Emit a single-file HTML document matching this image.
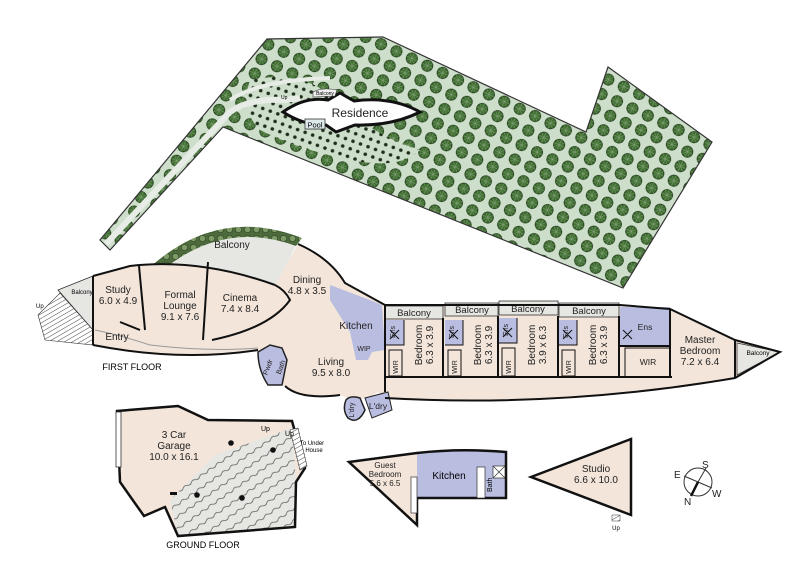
<!DOCTYPE html>
<html><head><meta charset="utf-8"><style>
html,body{margin:0;padding:0;background:#fff;}
svg{display:block;font-family:"Liberation Sans",sans-serif;}
</style></head><body>
<svg width="800" height="565" viewBox="0 0 800 565" xmlns="http://www.w3.org/2000/svg">
<defs>
<pattern id="trees" width="17" height="16" patternUnits="userSpaceOnUse" patternTransform="rotate(25)">
<rect width="17" height="16" fill="#cddfca"/>
<circle cx="7" cy="7" r="5.6" fill="#426f34" stroke="#1f3a18" stroke-width="0.8"/>
<path d="M7 1.5V12.5M1.5 7H12.5M3 3L11 11M11 3L3 11" stroke="#86a97a" stroke-width="0.5"/>
</pattern>
<pattern id="dots" width="8" height="8" patternUnits="userSpaceOnUse" patternTransform="rotate(20)">
<rect width="8" height="8" fill="#cddfca"/><circle cx="4" cy="4" r="1.8" fill="#1e2e1a"/>
</pattern>
<pattern id="hatch" width="4" height="4" patternUnits="userSpaceOnUse" patternTransform="rotate(60)">
<rect width="4" height="4" fill="#fff"/><line x1="0" y1="0" x2="0" y2="4" stroke="#444" stroke-width="1"/>
</pattern>
<pattern id="band" width="9" height="9" patternUnits="userSpaceOnUse">
<rect width="9" height="9" fill="#4c6a3c"/><circle cx="4.5" cy="4.5" r="3.2" fill="#7d9a66" stroke="#2c4222" stroke-width="0.6"/>
</pattern>
<pattern id="contour" width="10" height="10" patternUnits="userSpaceOnUse" patternTransform="rotate(-35)">
<rect width="10" height="10" fill="#e6e6e2"/><path d="M0 5 Q2.5 3 5 5 T10 5" fill="none" stroke="#555" stroke-width="0.7"/>
</pattern>
</defs>

<!-- Site lot -->
<polygon points="267,39 383,37 586,132 608,67 712,142 623,288 223,127 110,250 100,240" fill="url(#trees)" stroke="#333" stroke-width="1.2"/>
<path d="M250,80 Q300,70 330,95 Q370,135 420,150 Q400,170 350,160 Q300,150 260,130 Q240,110 250,80Z" fill="url(#dots)"/>
<!-- driveway -->
<path d="M106,244 L230,112 Q250,98 285,100 L300,98" fill="none" stroke="#e8ece6" stroke-width="6"/>
<path d="M230,100 Q260,80 330,78" fill="none" stroke="#e8ece6" stroke-width="4"/>
<!-- residence -->
<path d="M283,112 Q305,96 328,100 L340,93 L354,101 Q392,96 420,112 Q392,126 355,125 L336,132 L326,125 Q305,126 283,112 Z" fill="#fff" stroke="#111" stroke-width="3"/>
<text x="360" y="117" font-size="12" text-anchor="middle" fill="#222">Residence</text>
<rect x="305" y="119" width="20" height="10" fill="#dde9ea" stroke="#333" stroke-width="0.8"/>
<text x="315" y="127.5" font-size="7.5" text-anchor="middle">Pool</text>
<path d="M313,92 Q322,87 337,90 L335,96 L313,97Z" fill="#eee" stroke="#333" stroke-width="0.6"/>
<text x="325" y="95" font-size="5" text-anchor="middle">Balcony</text>
<text x="281" y="99" font-size="5">Up</text>

<!-- first floor balcony with planter band -->
<path d="M128,290 Q205,200 302,238 L296,246 Q210,215 140,292 Z" fill="url(#band)"/>
<path d="M140,292 Q210,215 296,246 L275,287 Q200,258 133,268 Z" fill="#e6e6e3"/>
<text x="232" y="248" font-size="10" text-anchor="middle" fill="#222">Balcony</text>

<!-- main house fill -->
<path d="M93,276 L130,266 Q200,258 275,285 L298,244 Q330,258 345,283 L385,305 L620,305 L670,309 L735,340 L780,352 L735,378 Q560,408 385,398 L378,392 Q360,405 340,395 Q300,400 285,386 Q265,372 258,350 Q180,362 93,345 Z" fill="#f3e5da"/>
<!-- left balcony & stairs -->
<polygon points="58,290 93,276 93,330" fill="#e6e6e3" stroke="#333" stroke-width="0.8"/>
<text x="82" y="294" font-size="6" text-anchor="middle">Balcony</text>
<polygon points="38,315 60,293 93,330 93,345 45,340" fill="url(#hatch)" stroke="#333" stroke-width="0.6"/>
<text x="36" y="308" font-size="6">Up</text>

<!-- blue rooms -->
<path d="M330,285 L370,300 L382,305 L385,350 L372,352 L368,360 L356,360 L350,332 L330,300 Z" fill="#b9bde0"/>
<path d="M258,352 L270,345 L282,348 L287,360 L282,385 L268,385 Q258,370 258,352 Z" fill="#b9bde0" stroke="#222" stroke-width="1.5"/>
<path d="M346,400 Q350,395 360,398 L365,410 Q358,425 348,418 Q342,410 346,400 Z" fill="#b9bde0" stroke="#222" stroke-width="1.5"/>
<path d="M365,398 L388,392 L392,410 L372,418 Z" fill="#b9bde0" stroke="#222" stroke-width="1"/>
<!-- ensuites -->
<rect x="386" y="320" width="18" height="25" fill="#b9bde0"/>
<rect x="445" y="320" width="18" height="25" fill="#b9bde0"/>
<rect x="499" y="318" width="18" height="25" fill="#b9bde0"/>
<rect x="559" y="320" width="18" height="25" fill="#b9bde0"/>
<rect x="620" y="307" width="50" height="39" fill="#b9bde0"/>

<!-- bedroom balconies -->
<g fill="#e6e6e3" stroke="#333" stroke-width="0.8">
<rect x="385" y="306" width="58" height="13"/>
<rect x="445" y="303" width="53" height="13"/>
<rect x="499" y="301" width="59" height="14"/>
<rect x="559" y="303" width="60" height="14"/>
<polygon points="737,343 780,352 737,375"/>
</g>
<g font-size="9.5" text-anchor="middle" fill="#222">
<text x="414" y="316">Balcony</text><text x="472" y="313">Balcony</text>
<text x="528" y="312">Balcony</text><text x="589" y="314">Balcony</text>
</g>
<text x="758" y="355" font-size="6.5" text-anchor="middle">Balcony</text>

<!-- walls -->
<g fill="none" stroke="#111" stroke-width="2">
<path d="M93,276 L130,266 Q200,258 275,285"/>
<path d="M93,345 Q180,362 258,350"/>
<path d="M93,276 L93,345"/>
<path d="M139,266 L145,330"/>
<path d="M208,262 L203,340"/>
<path d="M212,340 Q270,328 290,300 Q285,290 275,285"/>
<path d="M140,330 L120,322"/>
<path d="M298,244 Q330,258 345,283 L385,305"/>
<path d="M385,305 L620,305 L670,309 L735,340 L780,352 L735,378 Q560,408 385,398"/>
<path d="M285,386 Q300,400 340,395"/>
<path d="M385,305 L385,392"/>
<path d="M443,318 L443,377 M498,316 L498,377 M558,316 L558,377 M619,316 L619,377"/>
<path d="M385,377 L672,377"/>
<path d="M620,346 L670,346 M670,309 L670,378 M735,340 L735,378"/>
</g>
<g fill="none" stroke="#111" stroke-width="1">
<rect x="389" y="350" width="13" height="26"/><rect x="448" y="350" width="13" height="26"/>
<rect x="502" y="348" width="13" height="28"/><rect x="562" y="350" width="13" height="26"/>
<rect x="625" y="348" width="45" height="29"/>
<path d="M386,345 L404,345 L404,320 M445,345 L463,345 L463,320 M499,343 L517,343 L517,318 M559,345 L577,345 L577,320"/>
<path d="M390,330 l9,9 m0,-9 l-9,9 M449,330 l9,9 m0,-9 l-9,9 M503,328 l9,9 m0,-9 l-9,9 M563,330 l9,9 m0,-9 l-9,9 M623,330 l9,9 m0,-9 l-9,9"/>
<path d="M95,330 Q120,335 150,345 Q210,352 258,348" stroke="#999"/>
</g>

<!-- first floor labels -->
<g font-size="10" text-anchor="middle" fill="#222">
<text x="118" y="293">Study</text><text x="118" y="304">6.0 x 4.9</text>
<text x="180" y="298">Formal</text><text x="180" y="309">Lounge</text><text x="180" y="320">9.1 x 7.6</text>
<text x="240" y="301">Cinema</text><text x="240" y="312">7.4 x 8.4</text>
<text x="307" y="283">Dining</text><text x="307" y="294">4.8 x 3.5</text>
<text x="356" y="329">Kitchen</text>
<text x="331" y="365">Living</text><text x="331" y="376">9.5 x 8.0</text>
<text x="117" y="340">Entry</text>
<text x="700" y="343">Master</text><text x="700" y="354">Bedroom</text><text x="700" y="365">7.2 x 6.4</text>
<text x="645" y="330" font-size="8.5">Ens</text>
<text x="648" y="365" font-size="8.5">WIR</text>
<text x="378" y="409" font-size="8.5">L'dry</text>
</g>
<g font-size="10" text-anchor="middle" fill="#222">
<text transform="translate(422,345) rotate(-90)">Bedroom</text><text transform="translate(433,345) rotate(-90)">6.3 x 3.9</text>
<text transform="translate(481,345) rotate(-90)">Bedroom</text><text transform="translate(492,345) rotate(-90)">6.3 x 3.9</text>
<text transform="translate(535,345) rotate(-90)">Bedroom</text><text transform="translate(546,345) rotate(-90)">3.9 x 6.3</text>
<text transform="translate(596,345) rotate(-90)">Bedroom</text><text transform="translate(607,345) rotate(-90)">6.3 x 3.9</text>
</g>
<g font-size="7" text-anchor="middle" fill="#222">
<text transform="translate(398,367) rotate(-90)">WIR</text><text transform="translate(457,367) rotate(-90)">WIR</text>
<text transform="translate(511,367) rotate(-90)">WIR</text><text transform="translate(571,367) rotate(-90)">WIR</text>
<text transform="translate(395,332) rotate(-90)">Ens</text><text transform="translate(454,332) rotate(-90)">Ens</text>
<text transform="translate(508,330) rotate(-90)">Ens</text><text transform="translate(568,332) rotate(-90)">Ens</text>
<text transform="translate(270,368) rotate(-70)">Pwdr</text><text transform="translate(283,368) rotate(-70)">Bath</text>
<text transform="translate(354,410) rotate(-90)">L'dry</text>
<text x="364" y="351">WIP</text>
</g>
<text x="132" y="370" font-size="9" text-anchor="middle">FIRST FLOOR</text>

<!-- ground floor: garage -->
<polygon points="117,411 178,406 208,420 292,421 305,468 296,482 295,527 178,536 165,507 144,516 120,482" fill="#f3e5da"/>
<polygon points="170,500 215,455 292,428 296,482 295,527 178,536" fill="url(#contour)"/>
<polygon points="117,411 178,406 208,420 292,421 305,468 296,482 295,527 178,536 165,507 144,516 120,482" fill="none" stroke="#111" stroke-width="2.5"/>
<rect x="116" y="412" width="5" height="55" fill="#fff" stroke="#333" stroke-width="0.8"/>
<polygon points="290,430 298,428 307,466 300,470" fill="url(#hatch)" stroke="#333" stroke-width="0.6"/>
<g fill="#111"><circle cx="231" cy="443" r="2.8"/><circle cx="273" cy="450" r="2.8"/><circle cx="197" cy="495" r="2.8"/><circle cx="242" cy="498" r="2.8"/><rect x="170" y="492" width="7" height="3"/></g>
<g font-size="10" text-anchor="middle" fill="#222">
<text x="174" y="438">3 Car</text><text x="174" y="449">Garage</text><text x="174" y="460">10.0 x 16.1</text>
</g>
<text x="261" y="431" font-size="7">Up</text><text x="285" y="436" font-size="7">Up</text>
<text x="312" y="445" font-size="6" text-anchor="middle">To Under</text><text x="314" y="452" font-size="6" text-anchor="middle">House</text>
<text x="203" y="548" font-size="9" text-anchor="middle">GROUND FLOOR</text>

<!-- guest & kitchen -->
<polygon points="349,462 417,453 417,525" fill="#f3e5da"/>
<path d="M417,453 Q460,448 506,452 L506,498 L417,498 Z" fill="#b9bde0"/>
<path d="M349,462 L417,453 Q460,448 506,452 L506,498 L417,498 L417,525 Z" fill="none" stroke="#111" stroke-width="2.5"/>
<rect x="411" y="477" width="6" height="36" fill="#fff" stroke="#333" stroke-width="0.7"/>
<rect x="477" y="467" width="8" height="31" fill="#fff" stroke="#333" stroke-width="0.7"/>
<rect x="493" y="466" width="12" height="12" fill="#fff" stroke="#333" stroke-width="0.7"/>
<path d="M493,466 l12,12 m0,-12 l-12,12" stroke="#333" stroke-width="0.7"/>
<g font-size="8" text-anchor="middle" fill="#222">
<text x="385" y="468">Guest</text><text x="385" y="477">Bedroom</text><text x="385" y="486">5.6 x 6.5</text>
</g>
<text x="449" y="479" font-size="10" text-anchor="middle">Kitchen</text>
<text transform="translate(492,492) rotate(-90)" font-size="7">Bath</text>

<!-- studio -->
<polygon points="531,477 631,439 631,515" fill="#f3e5da" stroke="#111" stroke-width="2.5"/>
<g font-size="10" text-anchor="middle" fill="#222"><text x="596" y="472">Studio</text><text x="596" y="483">6.6 x 10.0</text></g>
<rect x="612" y="515" width="8" height="6" fill="url(#hatch)" stroke="#333" stroke-width="0.5"/>
<text x="616" y="530" font-size="6" text-anchor="middle">Up</text>

<!-- compass -->
<circle cx="698" cy="482" r="14" fill="none" stroke="#333" stroke-width="1"/>
<line x1="684" y1="476" x2="712" y2="488" stroke="#333"/>
<line x1="706" y1="468" x2="698" y2="482" stroke="#333"/>
<line x1="698" y1="482" x2="691" y2="496" stroke="#111" stroke-width="2.5"/>
<g font-size="10" fill="#222"><text x="702" y="468">S</text><text x="674" y="478">E</text><text x="712" y="497">W</text><text x="684" y="505">N</text></g>
</svg>
</body></html>
